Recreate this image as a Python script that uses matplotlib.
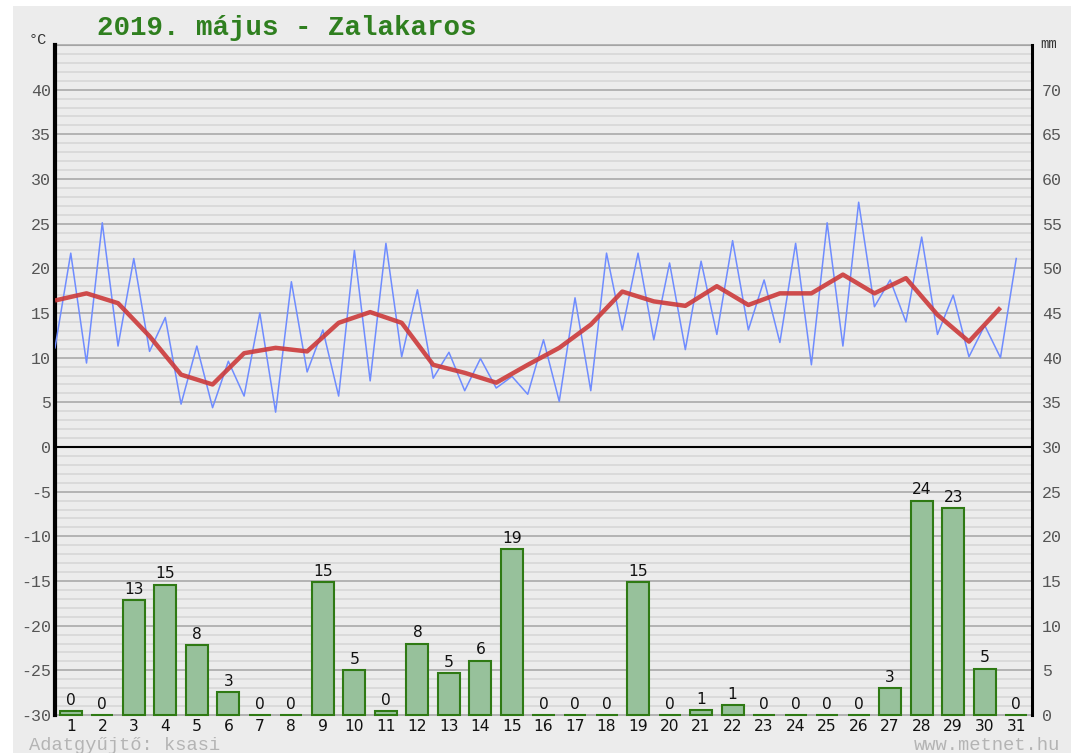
import matplotlib
matplotlib.use("Agg")
import matplotlib.pyplot as plt
from matplotlib.patches import Rectangle
import numpy as np

# ---- data ----
days = list(range(1, 32))
# half-daily temperatures (alternating morning/afternoon), degC
temp_halfday = [11.1, 21.7, 9.4, 25.1, 11.3, 21.1, 10.7, 14.5, 4.8, 11.3,
                4.4, 9.6, 5.7, 15.0, 3.9, 18.5, 8.4, 13.1, 5.7, 22.0,
                7.4, 22.8, 10.1, 17.6, 7.7, 10.6, 6.3, 9.9, 6.6, 7.9,
                5.9, 12.0, 5.1, 16.7, 6.3, 21.7, 13.1, 21.7, 12.0, 20.6,
                10.9, 20.8, 12.6, 23.1, 13.1, 18.7, 11.7, 22.8, 9.2, 25.1,
                11.3, 27.4, 15.7, 18.7, 14.0, 23.5, 12.6, 17.0, 10.1, 13.6,
                10.0, 21.1]
# daily mean temperature, degC
temp_daily = [16.4, 17.2, 16.1, 12.4, 8.1, 7.0, 10.5, 11.1, 10.7, 13.9,
              15.1, 13.9, 9.2, 8.3, 7.2, 9.2, 11.1, 13.7, 17.4, 16.3,
              15.8, 18.0, 15.9, 17.2, 17.2, 19.3, 17.2, 18.9, 14.8, 11.8,
              15.6]
# daily precipitation, mm
precip = [0.45, 0.0, 12.9, 14.6, 7.8, 2.6, 0.0, 0.0, 14.9, 5.0,
          0.45, 8.0, 4.7, 6.1, 18.6, 0.0, 0.0, 0.0, 14.9, 0.0,
          0.6, 1.15, 0.0, 0.0, 0.0, 0.0, 3.0, 24.0, 23.2, 5.2,
          0.0]
left_ticks = list(range(-30, 41, 5))
right_ticks = list(range(0, 71, 5))

title = "2019. május - Zalakaros"

# ---- style ----
W, H = 1080, 753
BG = "#ececec"
MONO = "Liberation Mono"
SANS = "DejaVu Sans"

fig = plt.figure(figsize=(W / 100, H / 100), dpi=100)
fig.patch.set_facecolor("white")
fig.patches.append(Rectangle((13 / W, 0), (1071 - 13) / W, (H - 6) / H,
                             transform=fig.transFigure, facecolor=BG,
                             edgecolor="none", zorder=-10))

x0, x1, yt, yb = 55, 1032, 45, 715
ax = fig.add_axes([x0 / W, 1 - yb / H, (x1 - x0) / W, (yb - yt) / H])
ax.set_facecolor(BG)
ax.set_xlim(0, 31)
ax.set_ylim(-30, 45)

# gridlines
for v in range(-30, 46):
    if v % 5 == 0:
        ax.axhline(v, color="#a4a4a4", lw=1.1, zorder=1, clip_on=False)
    else:
        ax.axhline(v, color="#dadada", lw=1.4, zorder=0.9)
ax.axhline(0, color="black", lw=1.5, zorder=2)

# temperature lines
xh = np.arange(len(temp_halfday)) / 2.0
ax.plot(xh, temp_halfday, color="#6f8cff", lw=1.1, zorder=3)
xd = np.arange(len(temp_daily))
ax.plot(xd, temp_daily, color="#cc3a3a", lw=3.2, alpha=0.9, zorder=4,
        solid_capstyle="butt")

for s in ["top", "bottom"]:
    ax.spines[s].set_visible(False)
ax.spines["left"].set_linewidth(3)
ax.spines["left"].set_color("black")
ax.spines["right"].set_visible(False)

ax.set_yticks(left_ticks)
ax.set_yticklabels([str(t) for t in left_ticks], fontfamily=MONO,
                   fontsize=12, color="#555555")
ax.tick_params(axis="y", length=0, pad=3)

centers = np.array(days) - 0.5
ax.set_xticks(centers)
ax.set_xticklabels([str(d) for d in days], fontfamily=SANS, fontsize=11.2,
                   color="#111111")
ax.tick_params(axis="x", length=0, pad=3)

# precipitation on right axis
ax2 = ax.twinx()
ax2.set_ylim(0, 75)
ax2.set_xlim(0, 31)
bars = ax2.bar(centers, precip, width=0.7, color="#97c19b",
               edgecolor="#2f7a14", linewidth=1.5, zorder=5)
for b in bars:
    b.set_clip_on(False)
for c, p in zip(centers, precip):
    ax2.text(c, p + 0.35, f"{p:.0f}", ha="center", va="bottom",
             fontfamily=SANS, fontsize=11.2, color="#111111", zorder=6)
for s in ["top", "bottom", "left"]:
    ax2.spines[s].set_visible(False)
ax2.spines["right"].set_linewidth(2.2)
ax2.spines["right"].set_color("black")
ax2.set_yticks(right_ticks)
ax2.set_yticklabels([str(t) for t in right_ticks], fontfamily=MONO,
                    fontsize=12, color="#555555")
ax2.tick_params(axis="y", length=0, pad=7)

# top border
ax.axhline(45, color="#a4a4a4", lw=1.5, zorder=1)

# texts
fig.text(97 / W, 1 - 28 / H, title, fontfamily=MONO, fontweight="bold",
         fontsize=19.8, color="#2f7f1f", ha="left", va="center")
fig.text(29 / W, 1 - 40 / H, "°C", fontfamily=MONO, fontsize=11,
         color="#333333", ha="left", va="center")
fig.text(1040 / W, 1 - 44 / H, "mm", fontfamily=MONO, fontsize=10,
         color="#333333", ha="left", va="center")
fig.text(29 / W, 1 - 745 / H, "Adatgyűjtő: ksasi", fontfamily=MONO,
         fontsize=13.5, color="#b4b4b4", ha="left", va="center")
fig.text(1060 / W, 1 - 745 / H, "www.metnet.hu", fontfamily=MONO,
         fontsize=13.5, color="#b4b4b4", ha="right", va="center")

fig.savefig("out.png", dpi=100, facecolor=fig.get_facecolor())
